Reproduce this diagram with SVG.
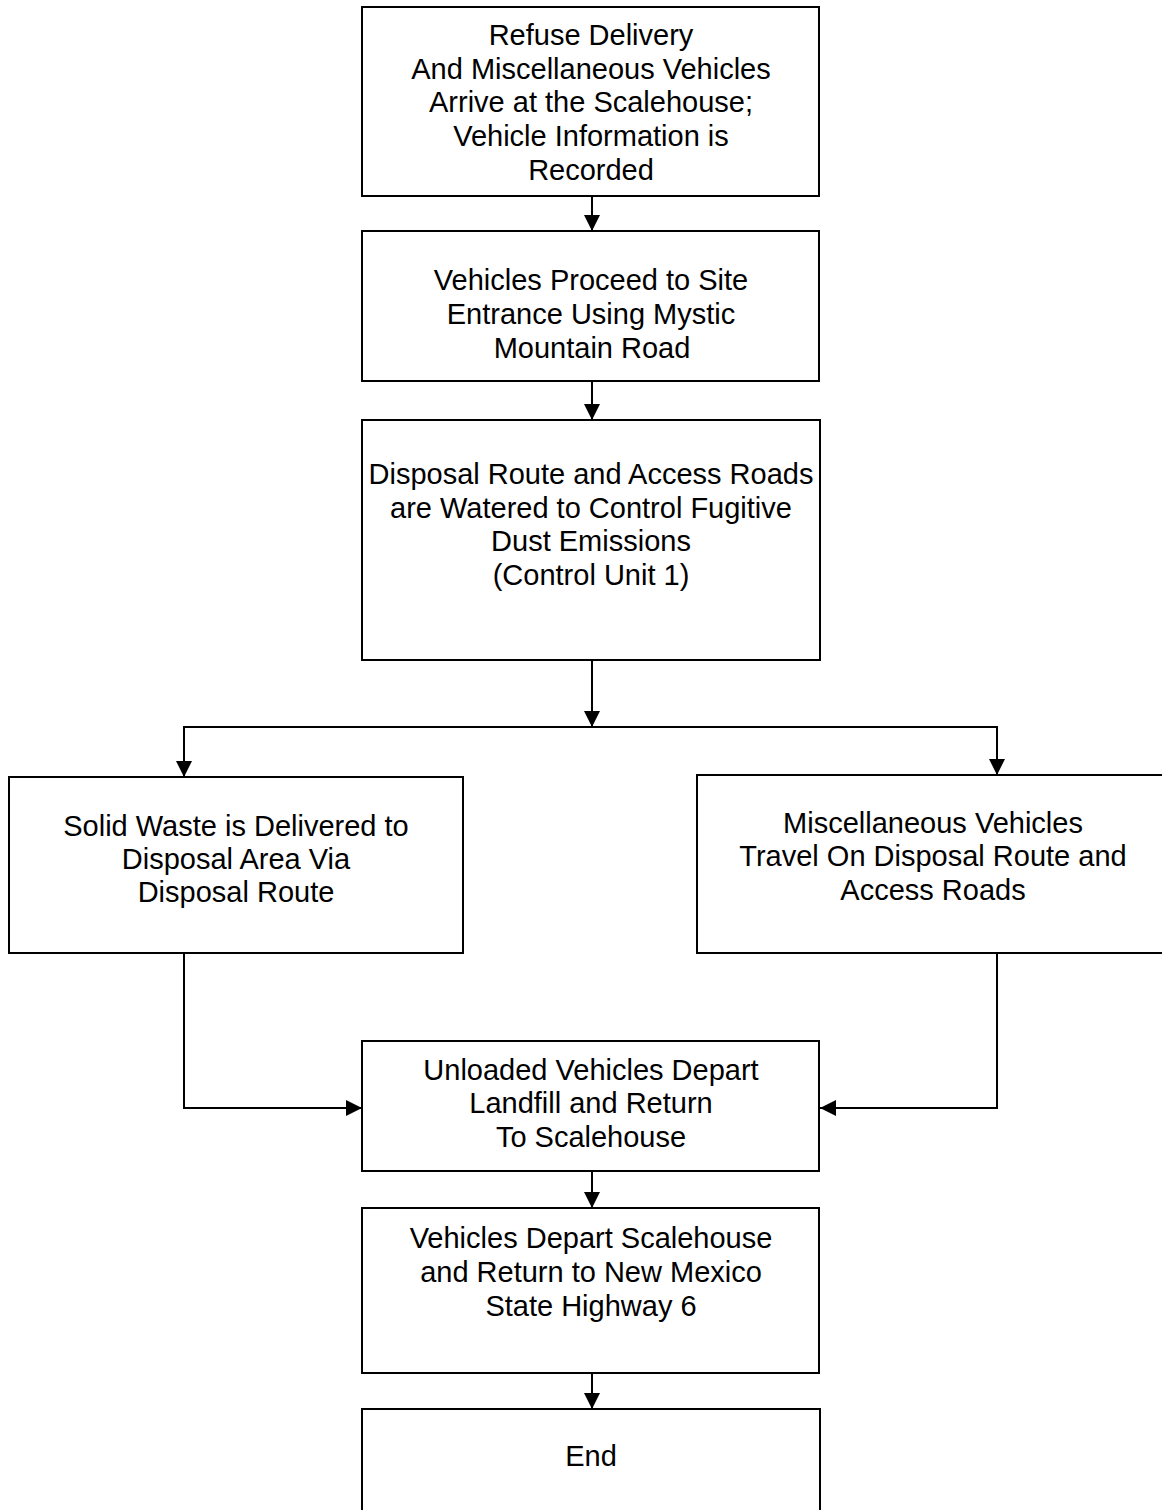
<svg xmlns="http://www.w3.org/2000/svg" width="1162" height="1510" viewBox="0 0 1162 1510">
<style>
.box{fill:#fff;stroke:#000;stroke-width:2}
.t{font-family:"Liberation Sans",Arial,sans-serif;font-size:29px;fill:#000;text-anchor:middle}
.c{fill:none;stroke:#000;stroke-width:2}
</style>
<defs>
<marker id="ah" markerUnits="userSpaceOnUse" markerWidth="17" markerHeight="16" refX="16" refY="8" orient="auto">
<path d="M0,0 L16,8 L0,16 z" fill="#000"/>
</marker>
</defs>
<rect width="1162" height="1510" fill="#fff"/>
<g id="connectors">
<path class="c" d="M592,196 V231" marker-end="url(#ah)"/>
<path class="c" d="M592,381 V420" marker-end="url(#ah)"/>
<path class="c" d="M592,660 V727" marker-end="url(#ah)"/>
<path class="c" d="M592,727 H184 V777" marker-end="url(#ah)"/>
<path class="c" d="M592,727 H997 V775" marker-end="url(#ah)"/>
<path class="c" d="M184,953 V1108 H362" marker-end="url(#ah)"/>
<path class="c" d="M997,953 V1108 H820" marker-end="url(#ah)"/>
<path class="c" d="M592,1171 V1208" marker-end="url(#ah)"/>
<path class="c" d="M592,1373 V1409" marker-end="url(#ah)"/>
</g>
<g id="n1">
<rect class="box" x="362" y="7" width="457" height="189"/>
<text class="t" x="591" y="45">Refuse Delivery</text>
<text class="t" x="591" y="79">And Miscellaneous Vehicles</text>
<text class="t" x="591" y="112">Arrive at the Scalehouse;</text>
<text class="t" x="591" y="146">Vehicle Information is</text>
<text class="t" x="591" y="180">Recorded</text>
</g>
<g id="n2">
<rect class="box" x="362" y="231" width="457" height="150"/>
<text class="t" x="591" y="290">Vehicles Proceed to Site</text>
<text class="t" x="591" y="324">Entrance Using Mystic</text>
<text class="t" x="592" y="358">Mountain Road</text>
</g>
<g id="n3">
<rect class="box" x="362" y="420" width="458" height="240"/>
<text class="t" x="591" y="484">Disposal Route and Access Roads</text>
<text class="t" x="591" y="518">are Watered to Control Fugitive</text>
<text class="t" x="591" y="551">Dust Emissions</text>
<text class="t" x="591" y="585">(Control Unit 1)</text>
</g>
<g id="n4">
<rect class="box" x="9" y="777" width="454" height="176"/>
<text class="t" x="236" y="836">Solid Waste is Delivered to</text>
<text class="t" x="236" y="869">Disposal Area Via</text>
<text class="t" x="236" y="902">Disposal Route</text>
</g>
<g id="n5">
<rect class="box" x="697" y="775" width="475" height="178"/>
<text class="t" x="933" y="833">Miscellaneous Vehicles</text>
<text class="t" x="933" y="866">Travel On Disposal Route and</text>
<text class="t" x="933" y="900">Access Roads</text>
</g>
<g id="n6">
<rect class="box" x="362" y="1041" width="457" height="130"/>
<text class="t" x="591" y="1080">Unloaded Vehicles Depart</text>
<text class="t" x="591" y="1113">Landfill and Return</text>
<text class="t" x="591" y="1147">To Scalehouse</text>
</g>
<g id="n7">
<rect class="box" x="362" y="1208" width="457" height="165"/>
<text class="t" x="591" y="1248">Vehicles Depart Scalehouse</text>
<text class="t" x="591" y="1282">and Return to New Mexico</text>
<text class="t" x="591" y="1316">State Highway 6</text>
</g>
<g id="n8">
<rect class="box" x="362" y="1409" width="458" height="120"/>
<text class="t" x="591" y="1466">End</text>
</g>
</svg>
